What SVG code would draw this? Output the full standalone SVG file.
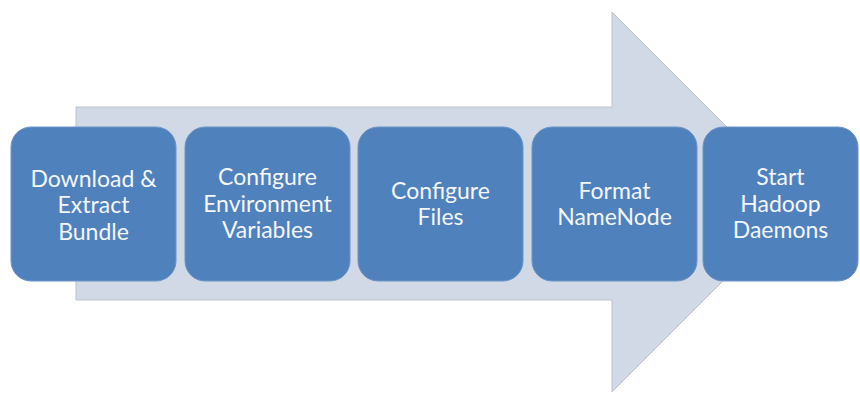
<svg xmlns="http://www.w3.org/2000/svg" width="860" height="394" viewBox="0 0 860 394">
<style>
.bg{fill:#D1D9E7;stroke:#BDC3CC;stroke-width:1}
.box{fill:#4F81BD;stroke:#6D95C6;stroke-width:1}
.t{font-family:Lato,"Open Sans","Liberation Sans",sans-serif;font-size:23px;fill:#F4F6FA;text-anchor:middle}
</style>
<rect width="860" height="394" fill="#FFFFFF"/>
<g id="arrow">
<polygon class="bg" points="76,107 612,107 612,12 802,202 612,392 612,300 76,300"/>
</g>
<g id="connectors"></g>
<g id="n1">
<rect class="box" x="11" y="127" width="165" height="154" rx="20"/>
<text class="t" x="93.5" y="187">Download &amp;</text>
<text class="t" x="93.5" y="213">Extract</text>
<text class="t" x="93.5" y="240">Bundle</text>
</g>
<g id="n2">
<rect class="box" x="185" y="127" width="165" height="154" rx="20"/>
<text class="t" x="267.5" y="185">Configure</text>
<text class="t" x="267.5" y="212">Environment</text>
<text class="t" x="267.5" y="238">Variables</text>
</g>
<g id="n3">
<rect class="box" x="358" y="127" width="165" height="154" rx="20"/>
<text class="t" x="440.5" y="199">Configure</text>
<text class="t" x="440.5" y="225">Files</text>
</g>
<g id="n4">
<rect class="box" x="532" y="127" width="165" height="154" rx="20"/>
<text class="t" x="614.5" y="199">Format</text>
<text class="t" x="614.5" y="225">NameNode</text>
</g>
<g id="n5">
<rect class="box" x="703" y="127" width="155" height="154" rx="20"/>
<text class="t" x="780.5" y="185">Start</text>
<text class="t" x="780.5" y="212">Hadoop</text>
<text class="t" x="780.5" y="238">Daemons</text>
</g>
</svg>
